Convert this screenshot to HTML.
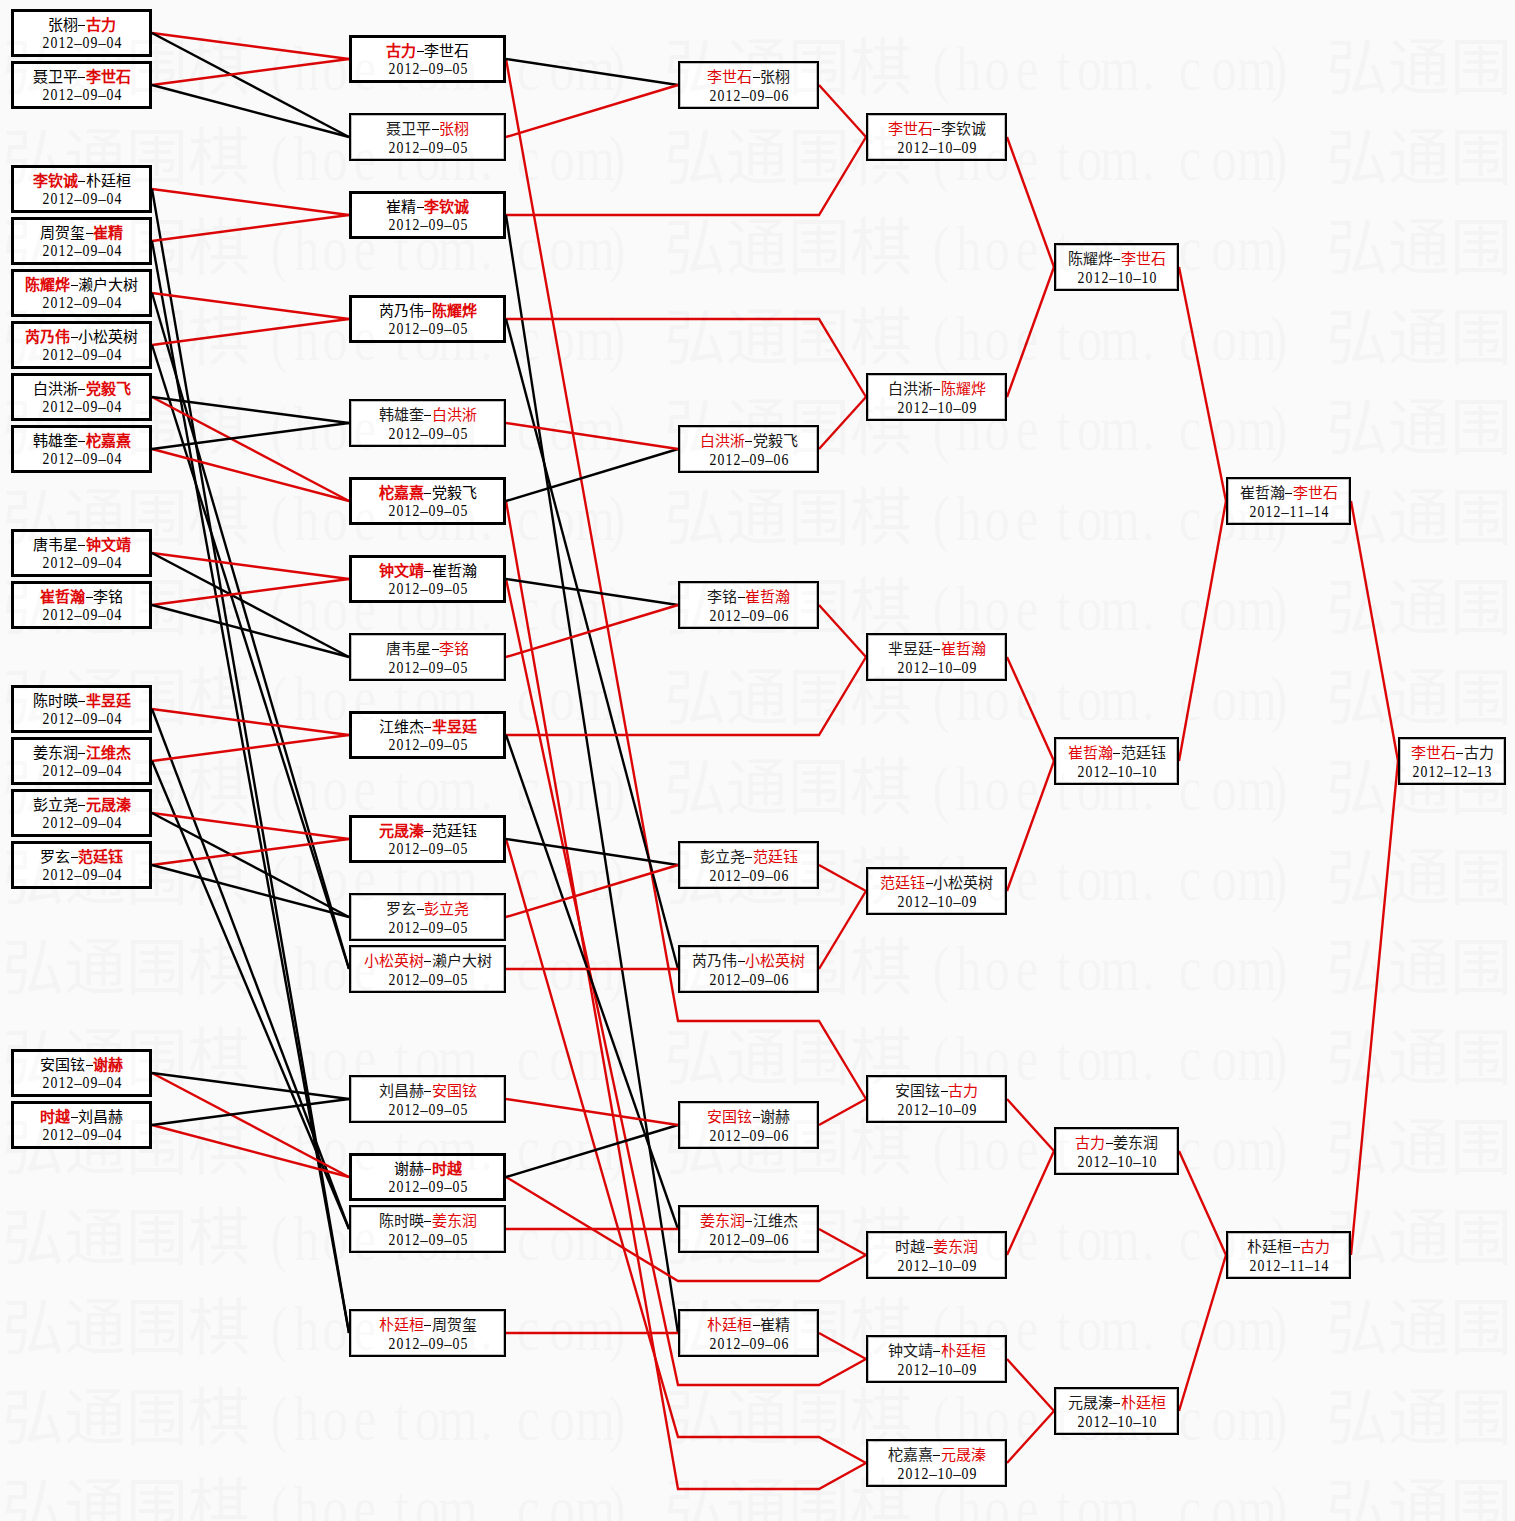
<!DOCTYPE html>
<html lang="zh-CN"><head><meta charset="utf-8"><title>bracket</title>
<style>
html,body{margin:0;padding:0;}
body{width:1515px;height:1521px;background:#fafafa;position:relative;overflow:hidden;font-family:"Liberation Sans",sans-serif;}
.wm{position:absolute;left:0;top:0;pointer-events:none;}
.wm text{fill:#000;fill-opacity:0.022;font-family:"Liberation Serif",serif;}
.wm .wc{font-size:62px;font-weight:100;}
.wm .wl{font-size:64px;}
svg.ln{position:absolute;left:0;top:0;}
.b{position:absolute;box-sizing:border-box;height:48px;border:2px solid #000;background:#fff;text-align:center;box-shadow:inset 0 0 0 1px rgba(0,0,0,.25);}
.b.t{border-width:3px;box-shadow:none;}
.n{position:absolute;left:0;right:0;top:5px;height:18px;line-height:18px;font-family:"Liberation Serif",serif;font-size:15px;color:#1a1a1a;white-space:nowrap;font-weight:300;}
.t .n{top:4px;font-weight:400;color:#000;}
.n i{font-style:normal;color:#e00808;}
.t .n i{font-weight:700;}
.n s{display:inline-block;width:7px;margin:0 .5px;height:0;border-top:1px solid #000;vertical-align:middle;position:relative;top:-1px;}
.d{position:absolute;left:0;right:0;top:25px;height:16px;line-height:16px;font-family:"Liberation Serif",serif;font-size:16px;color:#000;white-space:nowrap;}
.t .d{top:23px;}
.d b{display:inline-block;width:8px;text-align:center;font-weight:400;transform:scaleX(0.86);}
.d b.h{transform:scaleX(0.95);}
</style></head><body>

<svg class="ln" width="1515" height="1521" viewBox="0 0 1515 1521" fill="none" stroke-width="2.4">
<line x1="152" y1="33" x2="349" y2="59" stroke="#dc0606"/>
<line x1="152" y1="33" x2="349" y2="137" stroke="#000"/>
<line x1="152" y1="85" x2="349" y2="59" stroke="#dc0606"/>
<line x1="152" y1="85" x2="349" y2="137" stroke="#000"/>
<line x1="152" y1="189" x2="349" y2="215" stroke="#dc0606"/>
<line x1="152" y1="189" x2="349" y2="1333" stroke="#000"/>
<line x1="152" y1="241" x2="349" y2="215" stroke="#dc0606"/>
<line x1="152" y1="241" x2="349" y2="1333" stroke="#000"/>
<line x1="152" y1="293" x2="349" y2="319" stroke="#dc0606"/>
<line x1="152" y1="293" x2="349" y2="969" stroke="#000"/>
<line x1="152" y1="345" x2="349" y2="319" stroke="#dc0606"/>
<line x1="152" y1="345" x2="349" y2="969" stroke="#000"/>
<line x1="152" y1="397" x2="349" y2="501" stroke="#dc0606"/>
<line x1="152" y1="397" x2="349" y2="423" stroke="#000"/>
<line x1="152" y1="449" x2="349" y2="501" stroke="#dc0606"/>
<line x1="152" y1="449" x2="349" y2="423" stroke="#000"/>
<line x1="152" y1="553" x2="349" y2="579" stroke="#dc0606"/>
<line x1="152" y1="553" x2="349" y2="657" stroke="#000"/>
<line x1="152" y1="605" x2="349" y2="579" stroke="#dc0606"/>
<line x1="152" y1="605" x2="349" y2="657" stroke="#000"/>
<line x1="152" y1="709" x2="349" y2="735" stroke="#dc0606"/>
<line x1="152" y1="709" x2="349" y2="1229" stroke="#000"/>
<line x1="152" y1="761" x2="349" y2="735" stroke="#dc0606"/>
<line x1="152" y1="761" x2="349" y2="1229" stroke="#000"/>
<line x1="152" y1="813" x2="349" y2="839" stroke="#dc0606"/>
<line x1="152" y1="813" x2="349" y2="917" stroke="#000"/>
<line x1="152" y1="865" x2="349" y2="839" stroke="#dc0606"/>
<line x1="152" y1="865" x2="349" y2="917" stroke="#000"/>
<line x1="152" y1="1073" x2="349" y2="1177" stroke="#dc0606"/>
<line x1="152" y1="1073" x2="349" y2="1099" stroke="#000"/>
<line x1="152" y1="1125" x2="349" y2="1177" stroke="#dc0606"/>
<line x1="152" y1="1125" x2="349" y2="1099" stroke="#000"/>
<polyline points="506,59 678,1021 819,1021 866,1099" stroke="#dc0606"/>
<line x1="506" y1="59" x2="678" y2="85" stroke="#000"/>
<polyline points="506,215 678,215 819,215 866,137" stroke="#dc0606"/>
<line x1="506" y1="215" x2="678" y2="1333" stroke="#000"/>
<polyline points="506,319 678,319 819,319 866,397" stroke="#dc0606"/>
<line x1="506" y1="319" x2="678" y2="969" stroke="#000"/>
<polyline points="506,501 678,1489 819,1489 866,1463" stroke="#dc0606"/>
<line x1="506" y1="501" x2="678" y2="449" stroke="#000"/>
<polyline points="506,579 678,1385 819,1385 866,1359" stroke="#dc0606"/>
<line x1="506" y1="579" x2="678" y2="605" stroke="#000"/>
<polyline points="506,735 678,735 819,735 866,657" stroke="#dc0606"/>
<line x1="506" y1="735" x2="678" y2="1229" stroke="#000"/>
<polyline points="506,839 678,1437 819,1437 866,1463" stroke="#dc0606"/>
<line x1="506" y1="839" x2="678" y2="865" stroke="#000"/>
<polyline points="506,1177 678,1281 819,1281 866,1255" stroke="#dc0606"/>
<line x1="506" y1="1177" x2="678" y2="1125" stroke="#000"/>
<line x1="506" y1="137" x2="678" y2="85" stroke="#dc0606"/>
<line x1="506" y1="423" x2="678" y2="449" stroke="#dc0606"/>
<line x1="506" y1="657" x2="678" y2="605" stroke="#dc0606"/>
<line x1="506" y1="917" x2="678" y2="865" stroke="#dc0606"/>
<line x1="506" y1="969" x2="678" y2="969" stroke="#dc0606"/>
<line x1="506" y1="1099" x2="678" y2="1125" stroke="#dc0606"/>
<line x1="506" y1="1229" x2="678" y2="1229" stroke="#dc0606"/>
<line x1="506" y1="1333" x2="678" y2="1333" stroke="#dc0606"/>
<line x1="819" y1="85" x2="866" y2="137" stroke="#dc0606"/>
<line x1="819" y1="449" x2="866" y2="397" stroke="#dc0606"/>
<line x1="819" y1="605" x2="866" y2="657" stroke="#dc0606"/>
<line x1="819" y1="865" x2="866" y2="891" stroke="#dc0606"/>
<line x1="819" y1="969" x2="866" y2="891" stroke="#dc0606"/>
<line x1="819" y1="1125" x2="866" y2="1099" stroke="#dc0606"/>
<line x1="819" y1="1229" x2="866" y2="1255" stroke="#dc0606"/>
<line x1="819" y1="1333" x2="866" y2="1359" stroke="#dc0606"/>
<line x1="1007" y1="137" x2="1054" y2="267" stroke="#dc0606"/>
<line x1="1007" y1="397" x2="1054" y2="267" stroke="#dc0606"/>
<line x1="1007" y1="657" x2="1054" y2="761" stroke="#dc0606"/>
<line x1="1007" y1="891" x2="1054" y2="761" stroke="#dc0606"/>
<line x1="1007" y1="1099" x2="1054" y2="1151" stroke="#dc0606"/>
<line x1="1007" y1="1255" x2="1054" y2="1151" stroke="#dc0606"/>
<line x1="1007" y1="1359" x2="1054" y2="1411" stroke="#dc0606"/>
<line x1="1007" y1="1463" x2="1054" y2="1411" stroke="#dc0606"/>
<line x1="1179" y1="267" x2="1226" y2="501" stroke="#dc0606"/>
<line x1="1179" y1="761" x2="1226" y2="501" stroke="#dc0606"/>
<line x1="1179" y1="1151" x2="1226" y2="1255" stroke="#dc0606"/>
<line x1="1179" y1="1411" x2="1226" y2="1255" stroke="#dc0606"/>
<line x1="1351" y1="501" x2="1398" y2="761" stroke="#dc0606"/>
<line x1="1351" y1="1255" x2="1398" y2="761" stroke="#dc0606"/>
</svg>
<div class="b t" style="left:11px;top:9px;width:141px"><div class="n">张栩<s></s><i>古力</i></div><div class="d"><b>2</b><b>0</b><b>1</b><b>2</b><b class="h">&#8211;</b><b>0</b><b>9</b><b class="h">&#8211;</b><b>0</b><b>4</b></div></div>
<div class="b t" style="left:11px;top:61px;width:141px"><div class="n">聂卫平<s></s><i>李世石</i></div><div class="d"><b>2</b><b>0</b><b>1</b><b>2</b><b class="h">&#8211;</b><b>0</b><b>9</b><b class="h">&#8211;</b><b>0</b><b>4</b></div></div>
<div class="b t" style="left:11px;top:165px;width:141px"><div class="n"><i>李钦诚</i><s></s>朴廷桓</div><div class="d"><b>2</b><b>0</b><b>1</b><b>2</b><b class="h">&#8211;</b><b>0</b><b>9</b><b class="h">&#8211;</b><b>0</b><b>4</b></div></div>
<div class="b t" style="left:11px;top:217px;width:141px"><div class="n">周贺玺<s></s><i>崔精</i></div><div class="d"><b>2</b><b>0</b><b>1</b><b>2</b><b class="h">&#8211;</b><b>0</b><b>9</b><b class="h">&#8211;</b><b>0</b><b>4</b></div></div>
<div class="b t" style="left:11px;top:269px;width:141px"><div class="n"><i>陈耀烨</i><s></s>濑户大树</div><div class="d"><b>2</b><b>0</b><b>1</b><b>2</b><b class="h">&#8211;</b><b>0</b><b>9</b><b class="h">&#8211;</b><b>0</b><b>4</b></div></div>
<div class="b t" style="left:11px;top:321px;width:141px"><div class="n"><i>芮乃伟</i><s></s>小松英树</div><div class="d"><b>2</b><b>0</b><b>1</b><b>2</b><b class="h">&#8211;</b><b>0</b><b>9</b><b class="h">&#8211;</b><b>0</b><b>4</b></div></div>
<div class="b t" style="left:11px;top:373px;width:141px"><div class="n">白洪淅<s></s><i>党毅飞</i></div><div class="d"><b>2</b><b>0</b><b>1</b><b>2</b><b class="h">&#8211;</b><b>0</b><b>9</b><b class="h">&#8211;</b><b>0</b><b>4</b></div></div>
<div class="b t" style="left:11px;top:425px;width:141px"><div class="n">韩雄奎<s></s><i>柁嘉熹</i></div><div class="d"><b>2</b><b>0</b><b>1</b><b>2</b><b class="h">&#8211;</b><b>0</b><b>9</b><b class="h">&#8211;</b><b>0</b><b>4</b></div></div>
<div class="b t" style="left:11px;top:529px;width:141px"><div class="n">唐韦星<s></s><i>钟文靖</i></div><div class="d"><b>2</b><b>0</b><b>1</b><b>2</b><b class="h">&#8211;</b><b>0</b><b>9</b><b class="h">&#8211;</b><b>0</b><b>4</b></div></div>
<div class="b t" style="left:11px;top:581px;width:141px"><div class="n"><i>崔哲瀚</i><s></s>李铭</div><div class="d"><b>2</b><b>0</b><b>1</b><b>2</b><b class="h">&#8211;</b><b>0</b><b>9</b><b class="h">&#8211;</b><b>0</b><b>4</b></div></div>
<div class="b t" style="left:11px;top:685px;width:141px"><div class="n">陈时暎<s></s><i>芈昱廷</i></div><div class="d"><b>2</b><b>0</b><b>1</b><b>2</b><b class="h">&#8211;</b><b>0</b><b>9</b><b class="h">&#8211;</b><b>0</b><b>4</b></div></div>
<div class="b t" style="left:11px;top:737px;width:141px"><div class="n">姜东润<s></s><i>江维杰</i></div><div class="d"><b>2</b><b>0</b><b>1</b><b>2</b><b class="h">&#8211;</b><b>0</b><b>9</b><b class="h">&#8211;</b><b>0</b><b>4</b></div></div>
<div class="b t" style="left:11px;top:789px;width:141px"><div class="n">彭立尧<s></s><i>元晟溱</i></div><div class="d"><b>2</b><b>0</b><b>1</b><b>2</b><b class="h">&#8211;</b><b>0</b><b>9</b><b class="h">&#8211;</b><b>0</b><b>4</b></div></div>
<div class="b t" style="left:11px;top:841px;width:141px"><div class="n">罗玄<s></s><i>范廷钰</i></div><div class="d"><b>2</b><b>0</b><b>1</b><b>2</b><b class="h">&#8211;</b><b>0</b><b>9</b><b class="h">&#8211;</b><b>0</b><b>4</b></div></div>
<div class="b t" style="left:11px;top:1049px;width:141px"><div class="n">安国铉<s></s><i>谢赫</i></div><div class="d"><b>2</b><b>0</b><b>1</b><b>2</b><b class="h">&#8211;</b><b>0</b><b>9</b><b class="h">&#8211;</b><b>0</b><b>4</b></div></div>
<div class="b t" style="left:11px;top:1101px;width:141px"><div class="n"><i>时越</i><s></s>刘昌赫</div><div class="d"><b>2</b><b>0</b><b>1</b><b>2</b><b class="h">&#8211;</b><b>0</b><b>9</b><b class="h">&#8211;</b><b>0</b><b>4</b></div></div>
<div class="b t" style="left:349px;top:35px;width:157px"><div class="n"><i>古力</i><s></s>李世石</div><div class="d"><b>2</b><b>0</b><b>1</b><b>2</b><b class="h">&#8211;</b><b>0</b><b>9</b><b class="h">&#8211;</b><b>0</b><b>5</b></div></div>
<div class="b" style="left:349px;top:113px;width:157px"><div class="n">聂卫平<s></s><i>张栩</i></div><div class="d"><b>2</b><b>0</b><b>1</b><b>2</b><b class="h">&#8211;</b><b>0</b><b>9</b><b class="h">&#8211;</b><b>0</b><b>5</b></div></div>
<div class="b t" style="left:349px;top:191px;width:157px"><div class="n">崔精<s></s><i>李钦诚</i></div><div class="d"><b>2</b><b>0</b><b>1</b><b>2</b><b class="h">&#8211;</b><b>0</b><b>9</b><b class="h">&#8211;</b><b>0</b><b>5</b></div></div>
<div class="b t" style="left:349px;top:295px;width:157px"><div class="n">芮乃伟<s></s><i>陈耀烨</i></div><div class="d"><b>2</b><b>0</b><b>1</b><b>2</b><b class="h">&#8211;</b><b>0</b><b>9</b><b class="h">&#8211;</b><b>0</b><b>5</b></div></div>
<div class="b" style="left:349px;top:399px;width:157px"><div class="n">韩雄奎<s></s><i>白洪淅</i></div><div class="d"><b>2</b><b>0</b><b>1</b><b>2</b><b class="h">&#8211;</b><b>0</b><b>9</b><b class="h">&#8211;</b><b>0</b><b>5</b></div></div>
<div class="b t" style="left:349px;top:477px;width:157px"><div class="n"><i>柁嘉熹</i><s></s>党毅飞</div><div class="d"><b>2</b><b>0</b><b>1</b><b>2</b><b class="h">&#8211;</b><b>0</b><b>9</b><b class="h">&#8211;</b><b>0</b><b>5</b></div></div>
<div class="b t" style="left:349px;top:555px;width:157px"><div class="n"><i>钟文靖</i><s></s>崔哲瀚</div><div class="d"><b>2</b><b>0</b><b>1</b><b>2</b><b class="h">&#8211;</b><b>0</b><b>9</b><b class="h">&#8211;</b><b>0</b><b>5</b></div></div>
<div class="b" style="left:349px;top:633px;width:157px"><div class="n">唐韦星<s></s><i>李铭</i></div><div class="d"><b>2</b><b>0</b><b>1</b><b>2</b><b class="h">&#8211;</b><b>0</b><b>9</b><b class="h">&#8211;</b><b>0</b><b>5</b></div></div>
<div class="b t" style="left:349px;top:711px;width:157px"><div class="n">江维杰<s></s><i>芈昱廷</i></div><div class="d"><b>2</b><b>0</b><b>1</b><b>2</b><b class="h">&#8211;</b><b>0</b><b>9</b><b class="h">&#8211;</b><b>0</b><b>5</b></div></div>
<div class="b t" style="left:349px;top:815px;width:157px"><div class="n"><i>元晟溱</i><s></s>范廷钰</div><div class="d"><b>2</b><b>0</b><b>1</b><b>2</b><b class="h">&#8211;</b><b>0</b><b>9</b><b class="h">&#8211;</b><b>0</b><b>5</b></div></div>
<div class="b" style="left:349px;top:893px;width:157px"><div class="n">罗玄<s></s><i>彭立尧</i></div><div class="d"><b>2</b><b>0</b><b>1</b><b>2</b><b class="h">&#8211;</b><b>0</b><b>9</b><b class="h">&#8211;</b><b>0</b><b>5</b></div></div>
<div class="b" style="left:349px;top:945px;width:157px"><div class="n"><i>小松英树</i><s></s>濑户大树</div><div class="d"><b>2</b><b>0</b><b>1</b><b>2</b><b class="h">&#8211;</b><b>0</b><b>9</b><b class="h">&#8211;</b><b>0</b><b>5</b></div></div>
<div class="b" style="left:349px;top:1075px;width:157px"><div class="n">刘昌赫<s></s><i>安国铉</i></div><div class="d"><b>2</b><b>0</b><b>1</b><b>2</b><b class="h">&#8211;</b><b>0</b><b>9</b><b class="h">&#8211;</b><b>0</b><b>5</b></div></div>
<div class="b t" style="left:349px;top:1153px;width:157px"><div class="n">谢赫<s></s><i>时越</i></div><div class="d"><b>2</b><b>0</b><b>1</b><b>2</b><b class="h">&#8211;</b><b>0</b><b>9</b><b class="h">&#8211;</b><b>0</b><b>5</b></div></div>
<div class="b" style="left:349px;top:1205px;width:157px"><div class="n">陈时暎<s></s><i>姜东润</i></div><div class="d"><b>2</b><b>0</b><b>1</b><b>2</b><b class="h">&#8211;</b><b>0</b><b>9</b><b class="h">&#8211;</b><b>0</b><b>5</b></div></div>
<div class="b" style="left:349px;top:1309px;width:157px"><div class="n"><i>朴廷桓</i><s></s>周贺玺</div><div class="d"><b>2</b><b>0</b><b>1</b><b>2</b><b class="h">&#8211;</b><b>0</b><b>9</b><b class="h">&#8211;</b><b>0</b><b>5</b></div></div>
<div class="b" style="left:678px;top:61px;width:141px"><div class="n"><i>李世石</i><s></s>张栩</div><div class="d"><b>2</b><b>0</b><b>1</b><b>2</b><b class="h">&#8211;</b><b>0</b><b>9</b><b class="h">&#8211;</b><b>0</b><b>6</b></div></div>
<div class="b" style="left:678px;top:425px;width:141px"><div class="n"><i>白洪淅</i><s></s>党毅飞</div><div class="d"><b>2</b><b>0</b><b>1</b><b>2</b><b class="h">&#8211;</b><b>0</b><b>9</b><b class="h">&#8211;</b><b>0</b><b>6</b></div></div>
<div class="b" style="left:678px;top:581px;width:141px"><div class="n">李铭<s></s><i>崔哲瀚</i></div><div class="d"><b>2</b><b>0</b><b>1</b><b>2</b><b class="h">&#8211;</b><b>0</b><b>9</b><b class="h">&#8211;</b><b>0</b><b>6</b></div></div>
<div class="b" style="left:678px;top:841px;width:141px"><div class="n">彭立尧<s></s><i>范廷钰</i></div><div class="d"><b>2</b><b>0</b><b>1</b><b>2</b><b class="h">&#8211;</b><b>0</b><b>9</b><b class="h">&#8211;</b><b>0</b><b>6</b></div></div>
<div class="b" style="left:678px;top:945px;width:141px"><div class="n">芮乃伟<s></s><i>小松英树</i></div><div class="d"><b>2</b><b>0</b><b>1</b><b>2</b><b class="h">&#8211;</b><b>0</b><b>9</b><b class="h">&#8211;</b><b>0</b><b>6</b></div></div>
<div class="b" style="left:678px;top:1101px;width:141px"><div class="n"><i>安国铉</i><s></s>谢赫</div><div class="d"><b>2</b><b>0</b><b>1</b><b>2</b><b class="h">&#8211;</b><b>0</b><b>9</b><b class="h">&#8211;</b><b>0</b><b>6</b></div></div>
<div class="b" style="left:678px;top:1205px;width:141px"><div class="n"><i>姜东润</i><s></s>江维杰</div><div class="d"><b>2</b><b>0</b><b>1</b><b>2</b><b class="h">&#8211;</b><b>0</b><b>9</b><b class="h">&#8211;</b><b>0</b><b>6</b></div></div>
<div class="b" style="left:678px;top:1309px;width:141px"><div class="n"><i>朴廷桓</i><s></s>崔精</div><div class="d"><b>2</b><b>0</b><b>1</b><b>2</b><b class="h">&#8211;</b><b>0</b><b>9</b><b class="h">&#8211;</b><b>0</b><b>6</b></div></div>
<div class="b" style="left:866px;top:113px;width:141px"><div class="n"><i>李世石</i><s></s>李钦诚</div><div class="d"><b>2</b><b>0</b><b>1</b><b>2</b><b class="h">&#8211;</b><b>1</b><b>0</b><b class="h">&#8211;</b><b>0</b><b>9</b></div></div>
<div class="b" style="left:866px;top:373px;width:141px"><div class="n">白洪淅<s></s><i>陈耀烨</i></div><div class="d"><b>2</b><b>0</b><b>1</b><b>2</b><b class="h">&#8211;</b><b>1</b><b>0</b><b class="h">&#8211;</b><b>0</b><b>9</b></div></div>
<div class="b" style="left:866px;top:633px;width:141px"><div class="n">芈昱廷<s></s><i>崔哲瀚</i></div><div class="d"><b>2</b><b>0</b><b>1</b><b>2</b><b class="h">&#8211;</b><b>1</b><b>0</b><b class="h">&#8211;</b><b>0</b><b>9</b></div></div>
<div class="b" style="left:866px;top:867px;width:141px"><div class="n"><i>范廷钰</i><s></s>小松英树</div><div class="d"><b>2</b><b>0</b><b>1</b><b>2</b><b class="h">&#8211;</b><b>1</b><b>0</b><b class="h">&#8211;</b><b>0</b><b>9</b></div></div>
<div class="b" style="left:866px;top:1075px;width:141px"><div class="n">安国铉<s></s><i>古力</i></div><div class="d"><b>2</b><b>0</b><b>1</b><b>2</b><b class="h">&#8211;</b><b>1</b><b>0</b><b class="h">&#8211;</b><b>0</b><b>9</b></div></div>
<div class="b" style="left:866px;top:1231px;width:141px"><div class="n">时越<s></s><i>姜东润</i></div><div class="d"><b>2</b><b>0</b><b>1</b><b>2</b><b class="h">&#8211;</b><b>1</b><b>0</b><b class="h">&#8211;</b><b>0</b><b>9</b></div></div>
<div class="b" style="left:866px;top:1335px;width:141px"><div class="n">钟文靖<s></s><i>朴廷桓</i></div><div class="d"><b>2</b><b>0</b><b>1</b><b>2</b><b class="h">&#8211;</b><b>1</b><b>0</b><b class="h">&#8211;</b><b>0</b><b>9</b></div></div>
<div class="b" style="left:866px;top:1439px;width:141px"><div class="n">柁嘉熹<s></s><i>元晟溱</i></div><div class="d"><b>2</b><b>0</b><b>1</b><b>2</b><b class="h">&#8211;</b><b>1</b><b>0</b><b class="h">&#8211;</b><b>0</b><b>9</b></div></div>
<div class="b" style="left:1054px;top:243px;width:125px"><div class="n">陈耀烨<s></s><i>李世石</i></div><div class="d"><b>2</b><b>0</b><b>1</b><b>2</b><b class="h">&#8211;</b><b>1</b><b>0</b><b class="h">&#8211;</b><b>1</b><b>0</b></div></div>
<div class="b" style="left:1054px;top:737px;width:125px"><div class="n"><i>崔哲瀚</i><s></s>范廷钰</div><div class="d"><b>2</b><b>0</b><b>1</b><b>2</b><b class="h">&#8211;</b><b>1</b><b>0</b><b class="h">&#8211;</b><b>1</b><b>0</b></div></div>
<div class="b" style="left:1054px;top:1127px;width:125px"><div class="n"><i>古力</i><s></s>姜东润</div><div class="d"><b>2</b><b>0</b><b>1</b><b>2</b><b class="h">&#8211;</b><b>1</b><b>0</b><b class="h">&#8211;</b><b>1</b><b>0</b></div></div>
<div class="b" style="left:1054px;top:1387px;width:125px"><div class="n">元晟溱<s></s><i>朴廷桓</i></div><div class="d"><b>2</b><b>0</b><b>1</b><b>2</b><b class="h">&#8211;</b><b>1</b><b>0</b><b class="h">&#8211;</b><b>1</b><b>0</b></div></div>
<div class="b" style="left:1226px;top:477px;width:125px"><div class="n">崔哲瀚<s></s><i>李世石</i></div><div class="d"><b>2</b><b>0</b><b>1</b><b>2</b><b class="h">&#8211;</b><b>1</b><b>1</b><b class="h">&#8211;</b><b>1</b><b>4</b></div></div>
<div class="b" style="left:1226px;top:1231px;width:125px"><div class="n">朴廷桓<s></s><i>古力</i></div><div class="d"><b>2</b><b>0</b><b>1</b><b>2</b><b class="h">&#8211;</b><b>1</b><b>1</b><b class="h">&#8211;</b><b>1</b><b>4</b></div></div>
<div class="b" style="left:1398px;top:737px;width:108px"><div class="n"><i>李世石</i><s></s>古力</div><div class="d"><b>2</b><b>0</b><b>1</b><b>2</b><b class="h">&#8211;</b><b>1</b><b>2</b><b class="h">&#8211;</b><b>1</b><b>3</b></div></div>
<svg class="wm" width="1515" height="1521">
<text class="wc" x="32.5 95 157 219" y="90" text-anchor="middle">弘通围棋</text><text class="wl" transform="scale(0.8,1)" x="348.8 383.1 418.8 456.2 501.9 534.4 572.5 608.1 660.0 702.5 743.8 771.2" y="90" text-anchor="middle">(hoetom.com)</text>
<text class="wc" x="694.5 757 819 881" y="90" text-anchor="middle">弘通围棋</text><text class="wl" transform="scale(0.8,1)" x="1176.2 1210.6 1246.2 1283.8 1329.4 1361.9 1400.0 1435.6 1487.5 1530.0 1571.2 1598.8" y="90" text-anchor="middle">(hoetom.com)</text>
<text class="wc" x="1356.5 1419 1481 1543" y="90" text-anchor="middle">弘通围棋</text><text class="wl" transform="scale(0.8,1)" x="2003.8 2038.1 2073.8 2111.2 2156.9 2189.4 2227.5 2263.1 2315.0 2357.5 2398.8 2426.2" y="90" text-anchor="middle">(hoetom.com)</text>
<text class="wc" x="32.5 95 157 219" y="180" text-anchor="middle">弘通围棋</text><text class="wl" transform="scale(0.8,1)" x="348.8 383.1 418.8 456.2 501.9 534.4 572.5 608.1 660.0 702.5 743.8 771.2" y="180" text-anchor="middle">(hoetom.com)</text>
<text class="wc" x="694.5 757 819 881" y="180" text-anchor="middle">弘通围棋</text><text class="wl" transform="scale(0.8,1)" x="1176.2 1210.6 1246.2 1283.8 1329.4 1361.9 1400.0 1435.6 1487.5 1530.0 1571.2 1598.8" y="180" text-anchor="middle">(hoetom.com)</text>
<text class="wc" x="1356.5 1419 1481 1543" y="180" text-anchor="middle">弘通围棋</text><text class="wl" transform="scale(0.8,1)" x="2003.8 2038.1 2073.8 2111.2 2156.9 2189.4 2227.5 2263.1 2315.0 2357.5 2398.8 2426.2" y="180" text-anchor="middle">(hoetom.com)</text>
<text class="wc" x="32.5 95 157 219" y="270" text-anchor="middle">弘通围棋</text><text class="wl" transform="scale(0.8,1)" x="348.8 383.1 418.8 456.2 501.9 534.4 572.5 608.1 660.0 702.5 743.8 771.2" y="270" text-anchor="middle">(hoetom.com)</text>
<text class="wc" x="694.5 757 819 881" y="270" text-anchor="middle">弘通围棋</text><text class="wl" transform="scale(0.8,1)" x="1176.2 1210.6 1246.2 1283.8 1329.4 1361.9 1400.0 1435.6 1487.5 1530.0 1571.2 1598.8" y="270" text-anchor="middle">(hoetom.com)</text>
<text class="wc" x="1356.5 1419 1481 1543" y="270" text-anchor="middle">弘通围棋</text><text class="wl" transform="scale(0.8,1)" x="2003.8 2038.1 2073.8 2111.2 2156.9 2189.4 2227.5 2263.1 2315.0 2357.5 2398.8 2426.2" y="270" text-anchor="middle">(hoetom.com)</text>
<text class="wc" x="32.5 95 157 219" y="360" text-anchor="middle">弘通围棋</text><text class="wl" transform="scale(0.8,1)" x="348.8 383.1 418.8 456.2 501.9 534.4 572.5 608.1 660.0 702.5 743.8 771.2" y="360" text-anchor="middle">(hoetom.com)</text>
<text class="wc" x="694.5 757 819 881" y="360" text-anchor="middle">弘通围棋</text><text class="wl" transform="scale(0.8,1)" x="1176.2 1210.6 1246.2 1283.8 1329.4 1361.9 1400.0 1435.6 1487.5 1530.0 1571.2 1598.8" y="360" text-anchor="middle">(hoetom.com)</text>
<text class="wc" x="1356.5 1419 1481 1543" y="360" text-anchor="middle">弘通围棋</text><text class="wl" transform="scale(0.8,1)" x="2003.8 2038.1 2073.8 2111.2 2156.9 2189.4 2227.5 2263.1 2315.0 2357.5 2398.8 2426.2" y="360" text-anchor="middle">(hoetom.com)</text>
<text class="wc" x="32.5 95 157 219" y="450" text-anchor="middle">弘通围棋</text><text class="wl" transform="scale(0.8,1)" x="348.8 383.1 418.8 456.2 501.9 534.4 572.5 608.1 660.0 702.5 743.8 771.2" y="450" text-anchor="middle">(hoetom.com)</text>
<text class="wc" x="694.5 757 819 881" y="450" text-anchor="middle">弘通围棋</text><text class="wl" transform="scale(0.8,1)" x="1176.2 1210.6 1246.2 1283.8 1329.4 1361.9 1400.0 1435.6 1487.5 1530.0 1571.2 1598.8" y="450" text-anchor="middle">(hoetom.com)</text>
<text class="wc" x="1356.5 1419 1481 1543" y="450" text-anchor="middle">弘通围棋</text><text class="wl" transform="scale(0.8,1)" x="2003.8 2038.1 2073.8 2111.2 2156.9 2189.4 2227.5 2263.1 2315.0 2357.5 2398.8 2426.2" y="450" text-anchor="middle">(hoetom.com)</text>
<text class="wc" x="32.5 95 157 219" y="540" text-anchor="middle">弘通围棋</text><text class="wl" transform="scale(0.8,1)" x="348.8 383.1 418.8 456.2 501.9 534.4 572.5 608.1 660.0 702.5 743.8 771.2" y="540" text-anchor="middle">(hoetom.com)</text>
<text class="wc" x="694.5 757 819 881" y="540" text-anchor="middle">弘通围棋</text><text class="wl" transform="scale(0.8,1)" x="1176.2 1210.6 1246.2 1283.8 1329.4 1361.9 1400.0 1435.6 1487.5 1530.0 1571.2 1598.8" y="540" text-anchor="middle">(hoetom.com)</text>
<text class="wc" x="1356.5 1419 1481 1543" y="540" text-anchor="middle">弘通围棋</text><text class="wl" transform="scale(0.8,1)" x="2003.8 2038.1 2073.8 2111.2 2156.9 2189.4 2227.5 2263.1 2315.0 2357.5 2398.8 2426.2" y="540" text-anchor="middle">(hoetom.com)</text>
<text class="wc" x="32.5 95 157 219" y="630" text-anchor="middle">弘通围棋</text><text class="wl" transform="scale(0.8,1)" x="348.8 383.1 418.8 456.2 501.9 534.4 572.5 608.1 660.0 702.5 743.8 771.2" y="630" text-anchor="middle">(hoetom.com)</text>
<text class="wc" x="694.5 757 819 881" y="630" text-anchor="middle">弘通围棋</text><text class="wl" transform="scale(0.8,1)" x="1176.2 1210.6 1246.2 1283.8 1329.4 1361.9 1400.0 1435.6 1487.5 1530.0 1571.2 1598.8" y="630" text-anchor="middle">(hoetom.com)</text>
<text class="wc" x="1356.5 1419 1481 1543" y="630" text-anchor="middle">弘通围棋</text><text class="wl" transform="scale(0.8,1)" x="2003.8 2038.1 2073.8 2111.2 2156.9 2189.4 2227.5 2263.1 2315.0 2357.5 2398.8 2426.2" y="630" text-anchor="middle">(hoetom.com)</text>
<text class="wc" x="32.5 95 157 219" y="720" text-anchor="middle">弘通围棋</text><text class="wl" transform="scale(0.8,1)" x="348.8 383.1 418.8 456.2 501.9 534.4 572.5 608.1 660.0 702.5 743.8 771.2" y="720" text-anchor="middle">(hoetom.com)</text>
<text class="wc" x="694.5 757 819 881" y="720" text-anchor="middle">弘通围棋</text><text class="wl" transform="scale(0.8,1)" x="1176.2 1210.6 1246.2 1283.8 1329.4 1361.9 1400.0 1435.6 1487.5 1530.0 1571.2 1598.8" y="720" text-anchor="middle">(hoetom.com)</text>
<text class="wc" x="1356.5 1419 1481 1543" y="720" text-anchor="middle">弘通围棋</text><text class="wl" transform="scale(0.8,1)" x="2003.8 2038.1 2073.8 2111.2 2156.9 2189.4 2227.5 2263.1 2315.0 2357.5 2398.8 2426.2" y="720" text-anchor="middle">(hoetom.com)</text>
<text class="wc" x="32.5 95 157 219" y="810" text-anchor="middle">弘通围棋</text><text class="wl" transform="scale(0.8,1)" x="348.8 383.1 418.8 456.2 501.9 534.4 572.5 608.1 660.0 702.5 743.8 771.2" y="810" text-anchor="middle">(hoetom.com)</text>
<text class="wc" x="694.5 757 819 881" y="810" text-anchor="middle">弘通围棋</text><text class="wl" transform="scale(0.8,1)" x="1176.2 1210.6 1246.2 1283.8 1329.4 1361.9 1400.0 1435.6 1487.5 1530.0 1571.2 1598.8" y="810" text-anchor="middle">(hoetom.com)</text>
<text class="wc" x="1356.5 1419 1481 1543" y="810" text-anchor="middle">弘通围棋</text><text class="wl" transform="scale(0.8,1)" x="2003.8 2038.1 2073.8 2111.2 2156.9 2189.4 2227.5 2263.1 2315.0 2357.5 2398.8 2426.2" y="810" text-anchor="middle">(hoetom.com)</text>
<text class="wc" x="32.5 95 157 219" y="900" text-anchor="middle">弘通围棋</text><text class="wl" transform="scale(0.8,1)" x="348.8 383.1 418.8 456.2 501.9 534.4 572.5 608.1 660.0 702.5 743.8 771.2" y="900" text-anchor="middle">(hoetom.com)</text>
<text class="wc" x="694.5 757 819 881" y="900" text-anchor="middle">弘通围棋</text><text class="wl" transform="scale(0.8,1)" x="1176.2 1210.6 1246.2 1283.8 1329.4 1361.9 1400.0 1435.6 1487.5 1530.0 1571.2 1598.8" y="900" text-anchor="middle">(hoetom.com)</text>
<text class="wc" x="1356.5 1419 1481 1543" y="900" text-anchor="middle">弘通围棋</text><text class="wl" transform="scale(0.8,1)" x="2003.8 2038.1 2073.8 2111.2 2156.9 2189.4 2227.5 2263.1 2315.0 2357.5 2398.8 2426.2" y="900" text-anchor="middle">(hoetom.com)</text>
<text class="wc" x="32.5 95 157 219" y="990" text-anchor="middle">弘通围棋</text><text class="wl" transform="scale(0.8,1)" x="348.8 383.1 418.8 456.2 501.9 534.4 572.5 608.1 660.0 702.5 743.8 771.2" y="990" text-anchor="middle">(hoetom.com)</text>
<text class="wc" x="694.5 757 819 881" y="990" text-anchor="middle">弘通围棋</text><text class="wl" transform="scale(0.8,1)" x="1176.2 1210.6 1246.2 1283.8 1329.4 1361.9 1400.0 1435.6 1487.5 1530.0 1571.2 1598.8" y="990" text-anchor="middle">(hoetom.com)</text>
<text class="wc" x="1356.5 1419 1481 1543" y="990" text-anchor="middle">弘通围棋</text><text class="wl" transform="scale(0.8,1)" x="2003.8 2038.1 2073.8 2111.2 2156.9 2189.4 2227.5 2263.1 2315.0 2357.5 2398.8 2426.2" y="990" text-anchor="middle">(hoetom.com)</text>
<text class="wc" x="32.5 95 157 219" y="1080" text-anchor="middle">弘通围棋</text><text class="wl" transform="scale(0.8,1)" x="348.8 383.1 418.8 456.2 501.9 534.4 572.5 608.1 660.0 702.5 743.8 771.2" y="1080" text-anchor="middle">(hoetom.com)</text>
<text class="wc" x="694.5 757 819 881" y="1080" text-anchor="middle">弘通围棋</text><text class="wl" transform="scale(0.8,1)" x="1176.2 1210.6 1246.2 1283.8 1329.4 1361.9 1400.0 1435.6 1487.5 1530.0 1571.2 1598.8" y="1080" text-anchor="middle">(hoetom.com)</text>
<text class="wc" x="1356.5 1419 1481 1543" y="1080" text-anchor="middle">弘通围棋</text><text class="wl" transform="scale(0.8,1)" x="2003.8 2038.1 2073.8 2111.2 2156.9 2189.4 2227.5 2263.1 2315.0 2357.5 2398.8 2426.2" y="1080" text-anchor="middle">(hoetom.com)</text>
<text class="wc" x="32.5 95 157 219" y="1170" text-anchor="middle">弘通围棋</text><text class="wl" transform="scale(0.8,1)" x="348.8 383.1 418.8 456.2 501.9 534.4 572.5 608.1 660.0 702.5 743.8 771.2" y="1170" text-anchor="middle">(hoetom.com)</text>
<text class="wc" x="694.5 757 819 881" y="1170" text-anchor="middle">弘通围棋</text><text class="wl" transform="scale(0.8,1)" x="1176.2 1210.6 1246.2 1283.8 1329.4 1361.9 1400.0 1435.6 1487.5 1530.0 1571.2 1598.8" y="1170" text-anchor="middle">(hoetom.com)</text>
<text class="wc" x="1356.5 1419 1481 1543" y="1170" text-anchor="middle">弘通围棋</text><text class="wl" transform="scale(0.8,1)" x="2003.8 2038.1 2073.8 2111.2 2156.9 2189.4 2227.5 2263.1 2315.0 2357.5 2398.8 2426.2" y="1170" text-anchor="middle">(hoetom.com)</text>
<text class="wc" x="32.5 95 157 219" y="1260" text-anchor="middle">弘通围棋</text><text class="wl" transform="scale(0.8,1)" x="348.8 383.1 418.8 456.2 501.9 534.4 572.5 608.1 660.0 702.5 743.8 771.2" y="1260" text-anchor="middle">(hoetom.com)</text>
<text class="wc" x="694.5 757 819 881" y="1260" text-anchor="middle">弘通围棋</text><text class="wl" transform="scale(0.8,1)" x="1176.2 1210.6 1246.2 1283.8 1329.4 1361.9 1400.0 1435.6 1487.5 1530.0 1571.2 1598.8" y="1260" text-anchor="middle">(hoetom.com)</text>
<text class="wc" x="1356.5 1419 1481 1543" y="1260" text-anchor="middle">弘通围棋</text><text class="wl" transform="scale(0.8,1)" x="2003.8 2038.1 2073.8 2111.2 2156.9 2189.4 2227.5 2263.1 2315.0 2357.5 2398.8 2426.2" y="1260" text-anchor="middle">(hoetom.com)</text>
<text class="wc" x="32.5 95 157 219" y="1350" text-anchor="middle">弘通围棋</text><text class="wl" transform="scale(0.8,1)" x="348.8 383.1 418.8 456.2 501.9 534.4 572.5 608.1 660.0 702.5 743.8 771.2" y="1350" text-anchor="middle">(hoetom.com)</text>
<text class="wc" x="694.5 757 819 881" y="1350" text-anchor="middle">弘通围棋</text><text class="wl" transform="scale(0.8,1)" x="1176.2 1210.6 1246.2 1283.8 1329.4 1361.9 1400.0 1435.6 1487.5 1530.0 1571.2 1598.8" y="1350" text-anchor="middle">(hoetom.com)</text>
<text class="wc" x="1356.5 1419 1481 1543" y="1350" text-anchor="middle">弘通围棋</text><text class="wl" transform="scale(0.8,1)" x="2003.8 2038.1 2073.8 2111.2 2156.9 2189.4 2227.5 2263.1 2315.0 2357.5 2398.8 2426.2" y="1350" text-anchor="middle">(hoetom.com)</text>
<text class="wc" x="32.5 95 157 219" y="1440" text-anchor="middle">弘通围棋</text><text class="wl" transform="scale(0.8,1)" x="348.8 383.1 418.8 456.2 501.9 534.4 572.5 608.1 660.0 702.5 743.8 771.2" y="1440" text-anchor="middle">(hoetom.com)</text>
<text class="wc" x="694.5 757 819 881" y="1440" text-anchor="middle">弘通围棋</text><text class="wl" transform="scale(0.8,1)" x="1176.2 1210.6 1246.2 1283.8 1329.4 1361.9 1400.0 1435.6 1487.5 1530.0 1571.2 1598.8" y="1440" text-anchor="middle">(hoetom.com)</text>
<text class="wc" x="1356.5 1419 1481 1543" y="1440" text-anchor="middle">弘通围棋</text><text class="wl" transform="scale(0.8,1)" x="2003.8 2038.1 2073.8 2111.2 2156.9 2189.4 2227.5 2263.1 2315.0 2357.5 2398.8 2426.2" y="1440" text-anchor="middle">(hoetom.com)</text>
<text class="wc" x="32.5 95 157 219" y="1530" text-anchor="middle">弘通围棋</text><text class="wl" transform="scale(0.8,1)" x="348.8 383.1 418.8 456.2 501.9 534.4 572.5 608.1 660.0 702.5 743.8 771.2" y="1530" text-anchor="middle">(hoetom.com)</text>
<text class="wc" x="694.5 757 819 881" y="1530" text-anchor="middle">弘通围棋</text><text class="wl" transform="scale(0.8,1)" x="1176.2 1210.6 1246.2 1283.8 1329.4 1361.9 1400.0 1435.6 1487.5 1530.0 1571.2 1598.8" y="1530" text-anchor="middle">(hoetom.com)</text>
<text class="wc" x="1356.5 1419 1481 1543" y="1530" text-anchor="middle">弘通围棋</text><text class="wl" transform="scale(0.8,1)" x="2003.8 2038.1 2073.8 2111.2 2156.9 2189.4 2227.5 2263.1 2315.0 2357.5 2398.8 2426.2" y="1530" text-anchor="middle">(hoetom.com)</text>
</svg>
</body></html>
